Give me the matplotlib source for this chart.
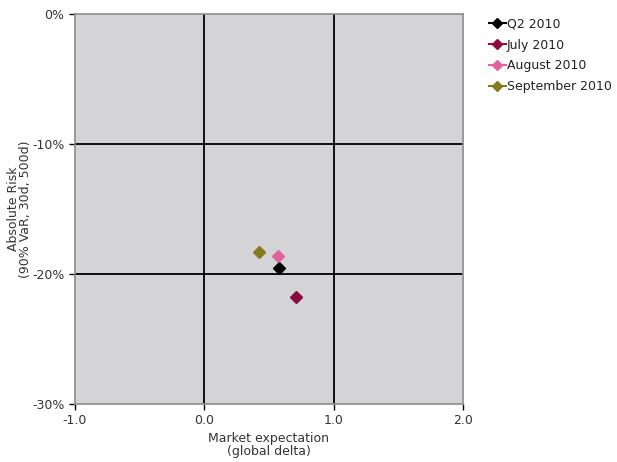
import matplotlib.pyplot as plt

# data
labels = ['Q2 2010', 'July 2010', 'August 2010', 'September 2010']
delta = [0.58, 0.71, 0.57, 0.425]
risk = [-19.5, -21.8, -18.6, -18.3]
colors = ['#000000', '#8b0a40', '#e2639a', '#857a1f']

xticks = [-1.0, 0.0, 1.0, 2.0]
yticks = [0, -10, -20, -30]

plt.rcParams['font.family'] = ['DejaVu Sans']
fig = plt.figure(figsize=(6.17, 4.62), dpi=100)
ax = fig.add_axes([75/617, 58/462, 388/617, 390/462])
ax.set_facecolor('#d4d4d6')

for v in [0.0, 1.0]:
    ax.axvline(v, color='black', lw=1.3, zorder=1)
for v in [-10, -20]:
    ax.axhline(v, color='black', lw=1.3, zorder=1)

for lab, x, y, c in zip(labels, delta, risk, colors):
    ax.plot([x], [y], marker='D', ms=6.5, color=c, ls='-', lw=1.5,
            label=lab, zorder=3)

ax.set_xlim(-1.0, 2.0)
ax.set_ylim(-30, 0)
ax.set_xticks(xticks)
ax.set_xticklabels(['%.1f' % t for t in xticks])
ax.set_yticks(yticks)
ax.set_yticklabels(['%d%%' % t for t in yticks])
ax.tick_params(labelsize=9, color='black', labelcolor='#333333',
               length=4, width=1, direction='out')
for s in ax.spines.values():
    s.set_color('#8c8c8c')
    s.set_linewidth(1.2)

ax.set_xlabel('Market expectation\n(global delta)', fontsize=9, labelpad=3,
              linespacing=1.0, color='#333333')
ax.set_ylabel('Absolute Risk\n(90% VaR, 30d, 500d)', fontsize=9, labelpad=0,
              linespacing=0.9, color='#333333')

leg = ax.legend(loc='upper left', bbox_to_anchor=(1.055, 1.003), frameon=False,
                fontsize=9, handlelength=1.3, handletextpad=0.1,
                labelspacing=0.62, borderaxespad=0)
for t in leg.get_texts():
    t.set_color('#222222')
for h in leg.legend_handles:
    h.set_markersize(5)

fig.savefig('out.png', dpi=100)
